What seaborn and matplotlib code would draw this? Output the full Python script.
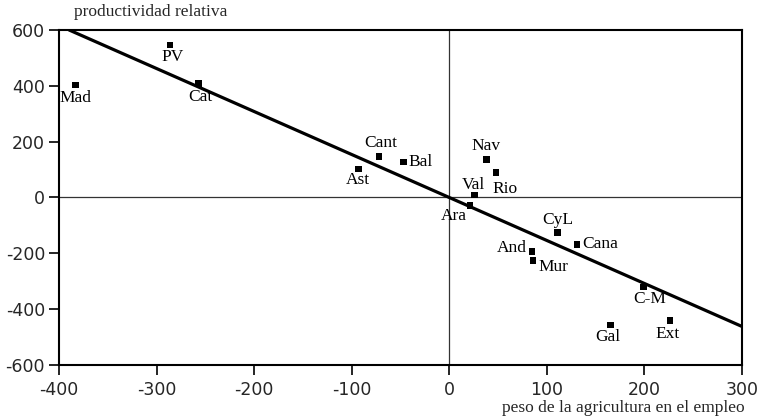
import matplotlib
matplotlib.use("Agg")
import matplotlib.pyplot as plt
import seaborn as sns
import pandas as pd

# ---- data ----
regions = ["Mad", "PV", "Cat", "Cant", "Bal", "Ast", "Val", "Ara", "Nav", "Rio",
           "CyL", "Cana", "And", "Mur", "C-M", "Gal", "Ext"]
peso_agricultura = [-383, -286, -257, -72, -47, -93, 26, 21, 38, 48,
                    111, 131, 85, 86, 199, 165, 226]
productividad = [403, 546, 409, 146, 128, 102, 9, -29, 137, 89,
                 -126, -168, -194, -226, -320, -457, -441]
fit_intercept = 0
fit_slope = -1.54
x_ticks = [-400, -300, -200, -100, 0, 100, 200, 300]
y_ticks = [-600, -400, -200, 0, 200, 400, 600]
x_title = "peso de la agricultura en el empleo"
y_title = "productividad relativa"

df = pd.DataFrame({"region": regions, "x": peso_agricultura, "y": productividad})

# label placement (pixel offset, alignment)
label_pos = {
    "Mad": (0, -13, "center"), "PV": (2, -12, "center"), "Cat": (2, -14, "center"),
    "Cant": (2, 14, "center"), "Bal": (5, 0, "left"), "Ast": (-1, -11, "center"),
    "Val": (-1, 10, "center"), "Ara": (-16, -10, "center"), "Nav": (0, 13, "center"),
    "Rio": (9, -16, "center"), "CyL": (0, 13, "center"), "Cana": (5, 0, "left"),
    "And": (-5, 4, "right"), "Mur": (5, -6, "left"), "C-M": (6, -12, "center"),
    "Gal": (-2, -12, "center"), "Ext": (-2, -13, "center"),
}

sns.set_style("white")
plt.rcParams["axes.unicode_minus"] = False
fig = plt.figure(figsize=(7.62, 4.18), dpi=100)
ax = fig.add_axes([59 / 762, 1 - 365 / 418, 683 / 762, 335 / 418])

ax.axhline(0, color="#333333", lw=0.9, zorder=1)
ax.axvline(0, color="#333333", lw=0.9, zorder=1)
ax.axline((0, fit_intercept), slope=fit_slope, color="black", lw=2.3, zorder=2)

sns.scatterplot(data=df, x="x", y="y", marker="s", s=22, color="black",
                edgecolor="none", ax=ax, zorder=3)

for r, xv, yv in zip(regions, peso_agricultura, productividad):
    dx, dy, ha = label_pos[r]
    ax.annotate(r, (xv, yv), xytext=(dx, dy), textcoords="offset pixels",
                ha=ha, va="center", fontsize=12.5, family="Liberation Serif",
                color="black")

ax.set_xlim(-400, 300)
ax.set_ylim(-600, 600)
ax.set_xticks(x_ticks)
ax.set_yticks(y_ticks)
ax.set_xlabel("")
ax.set_ylabel("")
for lab in ax.get_xticklabels() + ax.get_yticklabels():
    lab.set_family("DejaVu Sans")
    lab.set_fontsize(12.5)
ax.tick_params(axis="x", direction="out", length=7.5, width=1.2, color="black",
               bottom=True, pad=4)
ax.tick_params(axis="y", direction="out", length=7.5, width=1.2, color="black",
               left=True, pad=2.5)
for s in ax.spines.values():
    s.set_color("black")
    s.set_linewidth(1.5)

fig.text(151 / 762, 1 - 12 / 418, y_title, ha="center", va="center",
         fontsize=12.5, family="Liberation Serif")
fig.text(745 / 762, 1 - 408 / 418, x_title, ha="right", va="center",
         fontsize=12.5, family="Liberation Serif")

fig.savefig("out.png", dpi=100)
